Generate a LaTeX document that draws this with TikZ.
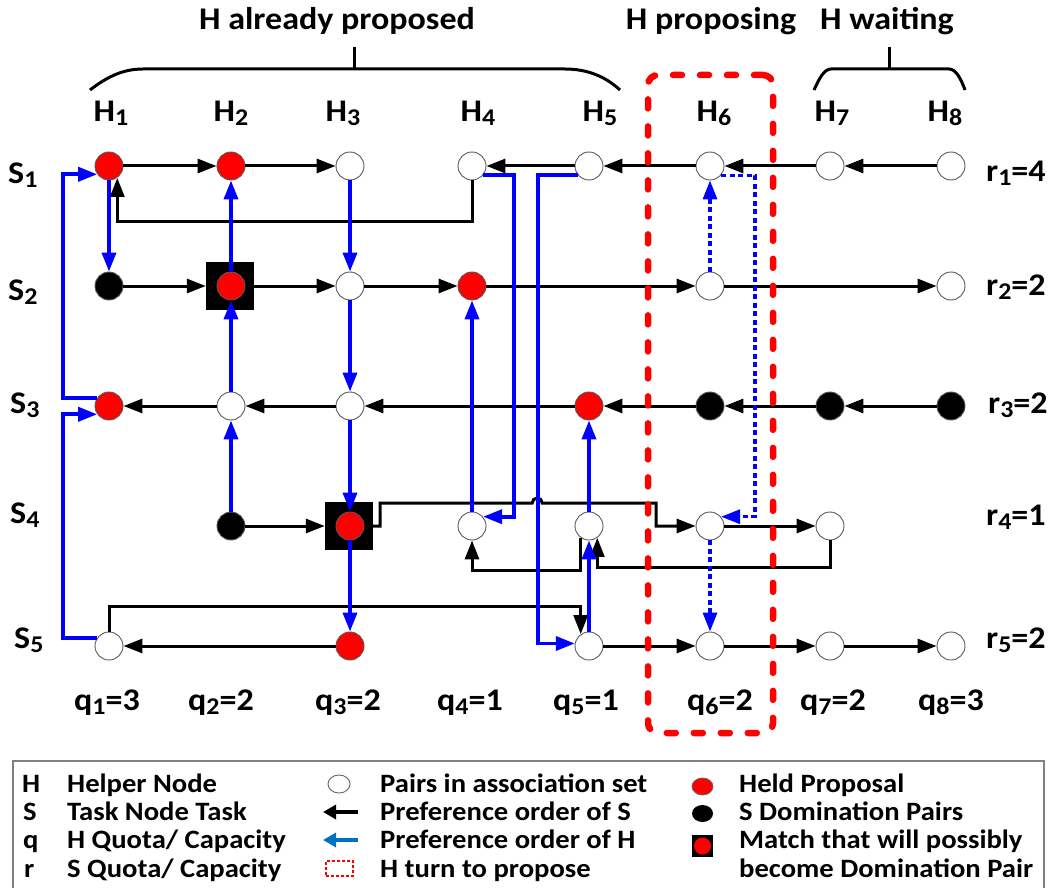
\documentclass[tikz,border=0pt]{standalone}
\usepackage{fontspec}
\setmainfont{Carlito}[FakeStretch=1.08]
\usetikzlibrary{arrows.meta,shapes.geometric}
\definecolor{lblue}{RGB}{0,112,192}
\newcommand{\sbs}[1]{\raisebox{-4pt}{\fontsize{24}{24}\selectfont #1}}
\begin{document}
\begin{tikzpicture}[x=1pt,y=-1pt,
  lbl/.style={font=\fontsize{31.5}{34}\selectfont\bfseries, inner sep=0pt},
  lgd/.style={font=\fontsize{26.5}{28}\selectfont\bfseries, inner sep=0pt, anchor=base west},
  pair/.style={circle, draw=black!65, line width=0.9pt, fill=white, minimum size=28pt, inner sep=0pt},
  held/.style={pair, fill=red},
  dom/.style={pair, fill=black},
  sqbox/.style={rectangle, fill=black, minimum size=48pt, inner sep=0pt},
  sarr/.style={line width=3pt, -{Triangle[length=19pt,width=14pt]}},
  harr/.style={blue, line width=3.6pt, -{Triangle[length=19pt,width=14pt]}},
  hdot/.style={harr, line width=3.2pt, dash pattern=on 5pt off 3.5pt},
  brace/.style={line width=3pt},
]
\useasboundingbox (0,0) rectangle (1050,888);

% titles
\node[lbl, anchor=base] (tA) at (337,30) {H already proposed};
\node[lbl, anchor=base] (tB) at (711,30) {H proposing};
\node[lbl, anchor=base] (tC) at (887,30) {H waiting};
\draw[brace] (90,90) .. controls (108,76) and (124,69) .. (143,69) -- (565,69) .. controls (588,69) and (606,77) .. (620,90);
\draw[brace] (354,69) -- (354,47);
\draw[brace] (814,90) .. controls (819,79) and (824,69) .. (831,69) -- (949,69) .. controls (956,69) and (961,79) .. (965,90);
\draw[brace] (889,69) -- (889,47);

% column labels
\node[lbl, anchor=base] (h1) at (111,122) {H\sbs{1}};
\node[lbl, anchor=base] (h2) at (231,122) {H\sbs{2}};
\node[lbl, anchor=base] (h3) at (343,122) {H\sbs{3}};
\node[lbl, anchor=base] (h4) at (478,122) {H\sbs{4}};
\node[lbl, anchor=base] (h5) at (600,122) {H\sbs{5}};
\node[lbl, anchor=base] (h6) at (714,122) {H\sbs{6}};
\node[lbl, anchor=base] (h7) at (832,122) {H\sbs{7}};
\node[lbl, anchor=base] (h8) at (945,122) {H\sbs{8}};
% row labels
\node[lbl, anchor=base west] (s1) at (8,183) {S\sbs{1}};
\node[lbl, anchor=base west] (s2) at (8,300) {S\sbs{2}};
\node[lbl, anchor=base west] (s3) at (10,413) {S\sbs{3}};
\node[lbl, anchor=base west] (s4) at (10,523) {S\sbs{4}};
\node[lbl, anchor=base west] (s5) at (14,648) {S\sbs{5}};
\node[lbl, anchor=base west] (r1) at (986,182) {r\sbs{1}=4};
\node[lbl, anchor=base west] (r2) at (986,295) {r\sbs{2}=2};
\node[lbl, anchor=base west] (r3) at (988,413) {r\sbs{3}=2};
\node[lbl, anchor=base west] (r4) at (986,525) {r\sbs{4}=1};
\node[lbl, anchor=base west] (r5) at (986,648) {r\sbs{5}=2};
% quota labels
\node[lbl, anchor=base] (q1) at (107,710) {q\sbs{1}=3};
\node[lbl, anchor=base] (q2) at (221,710) {q\sbs{2}=2};
\node[lbl, anchor=base] (q3) at (348,710) {q\sbs{3}=2};
\node[lbl, anchor=base] (q4) at (470,710) {q\sbs{4}=1};
\node[lbl, anchor=base] (q5) at (586,710) {q\sbs{5}=1};
\node[lbl, anchor=base] (q6) at (720,710) {q\sbs{6}=2};
\node[lbl, anchor=base] (q7) at (833,710) {q\sbs{7}=2};
\node[lbl, anchor=base] (q8) at (951,710) {q\sbs{8}=3};

% nodes row S1
\node[held] (n11) at (109,166) {};
\node[held] (n12) at (231,166) {};
\node[pair] (n13) at (350,166) {};
\node[pair] (n14) at (472,166) {};
\node[pair] (n15) at (589,166) {};
\node[pair] (n16) at (710,166) {};
\node[pair] (n17) at (830,166) {};
\node[pair] (n18) at (951,166) {};
% row S2
\node[dom] (n21) at (109,286) {};
\node[sqbox] (sq22) at (230,286) {};
\node[held] (n22) at (231,286) {};
\node[pair] (n23) at (350,286) {};
\node[held] (n24) at (472,286) {};
\node[pair] (n26) at (710,286) {};
\node[pair] (n28) at (951,286) {};
% row S3
\node[held] (n31) at (109,406) {};
\node[pair] (n32) at (231,406) {};
\node[pair] (n33) at (350,406) {};
\node[held] (n35) at (589,406) {};
\node[dom] (n36) at (710,406) {};
\node[dom] (n37) at (830,406) {};
\node[dom] (n38) at (951,406) {};
% row S4
\node[dom] (n42) at (231,526) {};
\node[sqbox] (sq43) at (349,526) {};
\node[held] (n43) at (350,526) {};
\node[pair] (n44) at (472,526) {};
\node[pair] (n45) at (589,526) {};
\node[pair] (n46) at (710,526) {};
\node[pair] (n47) at (830,526) {};
% row S5
\node[pair] (n51) at (109,646) {};
\node[held] (n53) at (350,646) {};
\node[pair] (n55) at (589,646) {};
\node[pair] (n56) at (710,646) {};
\node[pair] (n57) at (830,646) {};
\node[pair] (n58) at (951,646) {};

% S preference (black)
\draw[sarr] (n11) -- (n12);
\draw[sarr] (n12) -- (n13);
\draw[sarr] (n15) -- (n14);
\draw[sarr] (n16) -- (n15);
\draw[sarr] (n17) -- (n16);
\draw[sarr] (n18) -- (n17);
\draw[sarr] (n14.south) -- ++(0,41) -| (n11.-55);
\draw[sarr] (n21) -- (sq22);
\draw[sarr] (sq22) -- (n23);
\draw[sarr] (n23) -- (n24);
\draw[sarr] (n24) -- (n26);
\draw[sarr] (n26) -- (n28);
\draw[sarr] (n32) -- (n31);
\draw[sarr] (n33) -- (n32);
\draw[sarr] (n35) -- (n33);
\draw[sarr] (n36) -- (n35);
\draw[sarr] (n37) -- (n36);
\draw[sarr] (n38) -- (n37);
\draw[sarr] (n42) -- (sq43);
\draw[sarr] (sq43.east) -- ++(7,0) -- ++(0,-23) -- ++(152,0) arc[start angle=180,end angle=0,radius=5pt] -- ++(114,0) |- (n46.west);
\draw[sarr] (n46) -- (n47);
\draw[sarr] (n47.south) -- ++(0,27) -| (n45.-55);
\draw[sarr] (n45.-125) -- ++(0,33) -| (n44.south);
\draw[sarr] (n53) -- (n51);
\draw[sarr] (n55) -- (n56);
\draw[sarr] (n56) -- (n57);
\draw[sarr] (n57) -- (n58);
\draw[sarr] (n51.north) -- ++(0,-25) -| (n55.125);

% H preference (blue)
\draw[harr] (n11) -- (n21);
\draw[harr] (n51.145) -- ++(-34,0) |- (n31.-145);
\draw[harr] (n31.145) -- ++(-34,0) |- (n11.-145);
\draw[harr] (n42) -- (n32);
\draw[harr] (n32) -- (n22);
\draw[harr] (n22) -- (n12);
\draw[harr] (n13) -- (n23);
\draw[harr] (n23) -- (n33);
\draw[harr] (n33) -- (n43);
\draw[harr] (n43) -- (n53);
\draw[harr] (n44) -- (n24);
\draw[harr] (n14.-40) -- ++(31,0) |- (n44.40);
\draw[harr] (n15.-140) -- ++(-40,0) |- (n55.170);
\draw[harr] (n55) -- (n45);
\draw[harr] (n45) -- (n35);
\draw[hdot] (n26) -- (n16);
\draw[hdot] (n16.-40) -- ++(34,0) |- (n46.40);
\draw[hdot] (n46) -- (n56);

% proposing box
\node[draw=red, line width=6.5pt, dash pattern=on 9pt off 18pt, line cap=round, rounded corners=10pt, minimum width=125pt, minimum height=658pt, inner sep=0pt] (turn) at (710.5,404) {};

% legend
\node[draw=black!50, line width=1.8pt, minimum width=1031pt, minimum height=140pt, anchor=north west, inner sep=0pt] (legend) at (12,760) {};
\node[lgd] (lh) at (22,792) {H};
\node[lgd] (ls) at (23,820) {S};
\node[lgd] (lq) at (23,848) {q};
\node[lgd] (lr) at (24,877) {r};
\node[lgd] (lht) at (67,792) {Helper Node};
\node[lgd] (lst) at (67,820) {Task Node Task};
\node[lgd] (lqt) at (67,848) {H Quota/ Capacity};
\node[lgd] (lrt) at (67,877) {S Quota/ Capacity};
\node[ellipse, draw=black!60, line width=0.9pt, minimum width=22pt, minimum height=18pt, inner sep=0pt] (lc) at (339,784) {};
\coordinate (la1) at (358,812);
\coordinate (la2) at (323,812);
\draw[line width=3.5pt, -{Triangle[length=13pt,width=14pt]}] (la1) -- (la2);
\coordinate (lb1) at (358,840);
\coordinate (lb2) at (323,840);
\draw[lblue, line width=3.5pt, -{Triangle[length=13pt,width=14pt]}] (lb1) -- (lb2);
\node[draw=red, line width=2pt, dash pattern=on 3pt off 2pt, minimum width=27pt, minimum height=15pt, inner sep=0pt] (lbox) at (339.5,868.5) {};
\node[lgd] (l2a) at (380,792) {Pairs in association set};
\node[lgd] (l2b) at (380,820) {Preference order of S};
\node[lgd] (l2c) at (380,848) {Preference order of H};
\node[lgd] (l2d) at (380,877) {H turn to propose};
\node[ellipse, fill=red, draw=black!60, line width=0.8pt, minimum width=21pt, minimum height=17pt, inner sep=0pt] (lred) at (702.5,786.5) {};
\node[ellipse, fill=black, minimum width=21pt, minimum height=17pt, inner sep=0pt] (lblk) at (702.5,813.5) {};
\node[rectangle, fill=black, minimum width=21pt, minimum height=22pt, inner sep=0pt] (lsq) at (702.5,846) {};
\node[ellipse, fill=red, minimum width=17pt, minimum height=17pt, inner sep=0pt] (lsqc) at (702.5,846) {};
\node[lgd] (l3a) at (739,792) {Held Proposal};
\node[lgd] (l3b) at (739,820) {S Domination Pairs};
\node[lgd] (l3c) at (739,848) {Match that will possibly};
\node[lgd] (l3d) at (739,877) {become Domination Pair};
\end{tikzpicture}
\end{document}
